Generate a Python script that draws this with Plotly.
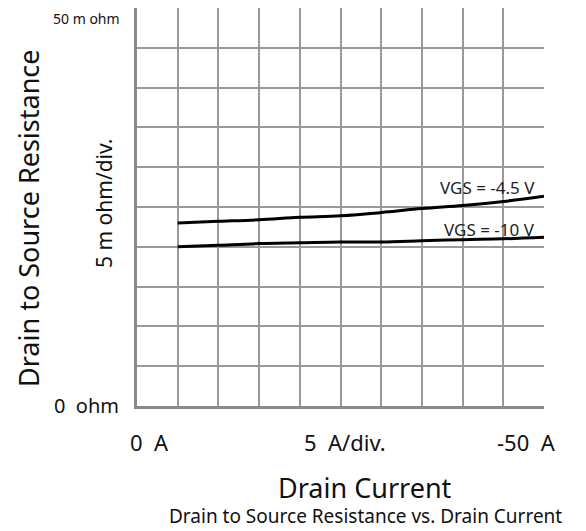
import plotly.graph_objects as go

# Data (drain current magnitude in A, resistance in m ohm)
current_a = [5, 10, 15, 20, 25, 30, 35, 40, 45, 50]
rds_vgs_45 = [23.0, 23.2, 23.4, 23.7, 23.9, 24.3, 24.8, 25.2, 25.7, 26.35]
rds_vgs_10 = [20.0, 20.2, 20.4, 20.5, 20.6, 20.6, 20.75, 20.9, 21.0, 21.2]
series_labels = ["VGS = -4.5 V", "VGS = -10 V"]

FONT = "Noto Sans"
OFF = 8  # page body offset
W, H = 586 - OFF, 531 - OFF
# plot area in reference (screen) pixels
L, R, T, B = 137, 544, 8, 406

def px(x):
    return (x - L) / (R - L)

def py(y):
    return (B - y) / (B - T)

fig = go.Figure()
for ys in (rds_vgs_45, rds_vgs_10):
    fig.add_trace(go.Scatter(x=current_a, y=ys, mode="lines",
                             line=dict(color="black", width=3, shape="spline"),
                             showlegend=False, hoverinfo="skip"))

axis_common = dict(range=[0, 50], dtick=5, showticklabels=False, ticks="",
                   showgrid=True, gridcolor="#9a9a9a", gridwidth=1.5,
                   zeroline=False, showline=True, linecolor="#8a8a8a",
                   linewidth=3, mirror=False, fixedrange=True)
fig.update_xaxes(**axis_common)
fig.update_yaxes(**axis_common)

ann = []
def add(text, x, y, size, xanchor="center", yanchor="middle", angle=0, pad=1):
    ann.append(dict(text=text, x=x, y=y, xref="paper", yref="paper",
                    showarrow=False, xanchor=xanchor, yanchor=yanchor,
                    textangle=angle, borderpad=pad,
                    font=dict(family=FONT, size=size, color="#111")))

add("50 m ohm", px(121), 1.0, 14, xanchor="right", yanchor="top", pad=0)
add("0\u00a0\u00a0ohm", px(121), py(405), 20, xanchor="right")
add("0\u00a0\u00a0A", px(149), py(442), 22)
add("5\u00a0\u00a0A/div.", px(345), py(442), 22)
add("-50\u00a0\u00a0A", px(526), py(442), 22)
add("Drain Current", px(365), py(488), 27, pad=0)
add("Drain to Source Resistance vs. Drain Current", px(365), py(516), 19, pad=0)
add("Drain to Source Resistance", px(29), py(218), 27, angle=-90)
add("5 m ohm/div.", px(104), py(203), 21, angle=-90)

# curve labels anchored to data
ann.append(dict(text=series_labels[0], x=current_a[-1] - 0.9, y=rds_vgs_45[-1] + 1.1,
                xref="x", yref="y", showarrow=False, xanchor="right", yanchor="middle",
                font=dict(family=FONT, size=17, color="#222")))
ann.append(dict(text=series_labels[1], x=current_a[-1] - 0.9, y=rds_vgs_10[-1] + 1.0,
                xref="x", yref="y", showarrow=False, xanchor="right", yanchor="middle",
                font=dict(family=FONT, size=17, color="#222")))

fig.update_layout(width=W, height=H,
                  margin=dict(l=L - OFF, r=586 - R, t=T - OFF, b=531 - B),
                  plot_bgcolor="white", paper_bgcolor="white",
                  annotations=ann, font=dict(family=FONT))
fig.write_html("out.html")
